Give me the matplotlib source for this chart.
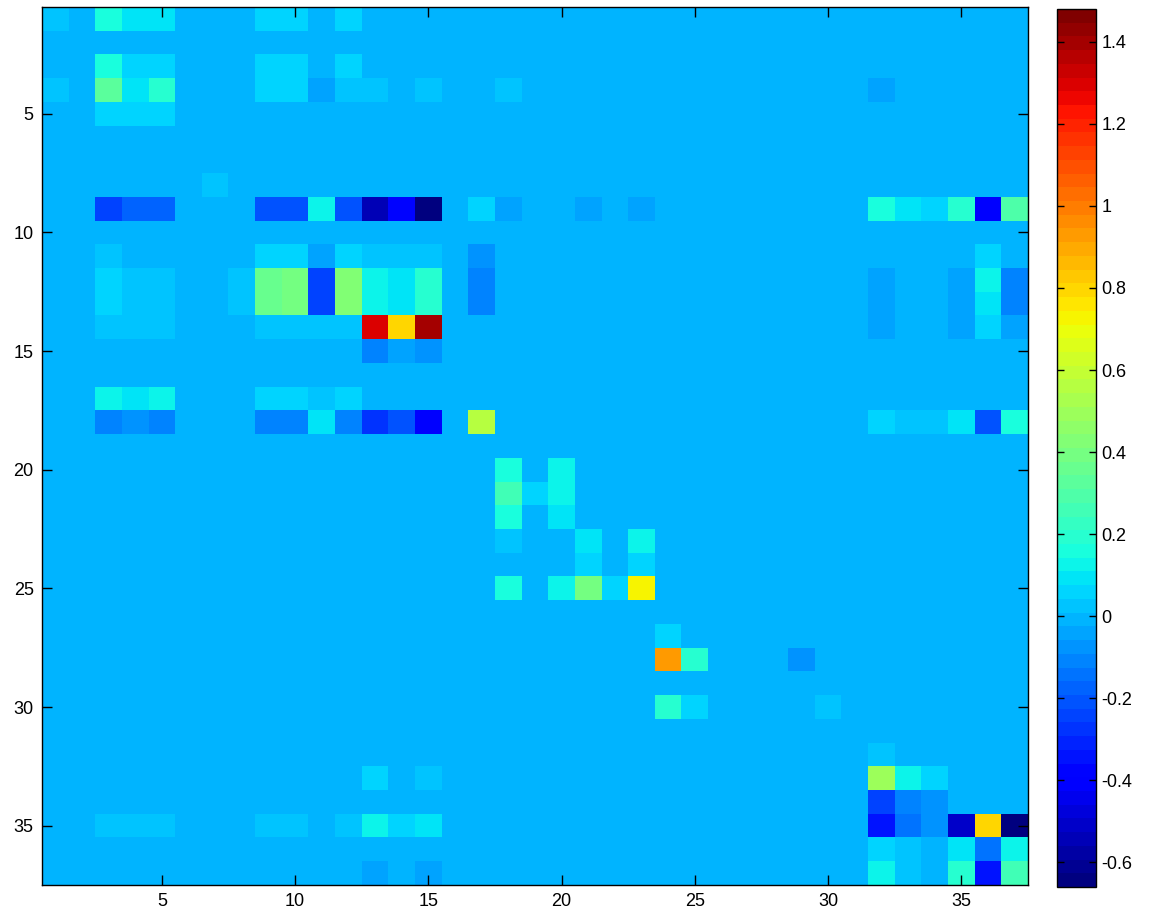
import numpy as np
import matplotlib
matplotlib.use("Agg")
import matplotlib.pyplot as plt

plt.rcParams['font.family'] = ['Liberation Sans', 'DejaVu Sans']
plt.rcParams['axes.unicode_minus'] = False

n = 37
vmin, vmax = -0.66, 1.48

# non-zero cells of the matrix (1-based row, col), everything else is 0
cell_rows = [1, 1, 1, 1, 1, 1, 1,
             3, 3, 3, 3, 3, 3,
             4, 4, 4, 4, 4, 4, 4, 4, 4, 4, 4, 4,
             5, 5, 5,
             8,
             9, 9, 9, 9, 9, 9, 9, 9, 9, 9, 9, 9, 9, 9, 9, 9, 9, 9, 9, 9,
             11, 11, 11, 11, 11, 11, 11, 11, 11, 11,
             12, 12, 12, 12, 12, 12, 12, 12, 12, 12, 12, 12, 12, 12, 12, 12,
             13, 13, 13, 13, 13, 13, 13, 13, 13, 13, 13, 13, 13, 13, 13, 13,
             14, 14, 14, 14, 14, 14, 14, 14, 14, 14, 14, 14, 14, 14,
             15, 15, 15,
             17, 17, 17, 17, 17, 17, 17,
             18, 18, 18, 18, 18, 18, 18, 18, 18, 18, 18, 18, 18, 18, 18, 18, 18,
             20, 20,
             21, 21, 21,
             22, 22,
             23, 23, 23,
             24, 24,
             25, 25, 25, 25, 25,
             27,
             28, 28, 28,
             30, 30, 30,
             32,
             33, 33, 33, 33, 33,
             34, 34, 34,
             35, 35, 35, 35, 35, 35, 35, 35, 35, 35, 35, 35, 35, 35, 35,
             36, 36, 36, 36, 36, 36,
             37, 37, 37, 37, 37, 37, 37, 37]
cell_cols = [1, 3, 4, 5, 9, 10, 12,
             3, 4, 5, 9, 10, 12,
             1, 3, 4, 5, 9, 10, 11, 12, 13, 15, 18, 32,
             3, 4, 5,
             7,
             3, 4, 5, 9, 10, 11, 12, 13, 14, 15, 17, 18, 21, 23, 32, 33, 34, 35, 36, 37,
             3, 9, 10, 11, 12, 13, 14, 15, 17, 36,
             3, 4, 5, 8, 9, 10, 11, 12, 13, 14, 15, 17, 32, 35, 36, 37,
             3, 4, 5, 8, 9, 10, 11, 12, 13, 14, 15, 17, 32, 35, 36, 37,
             3, 4, 5, 9, 10, 11, 12, 13, 14, 15, 32, 35, 36, 37,
             13, 14, 15,
             3, 4, 5, 9, 10, 11, 12,
             3, 4, 5, 9, 10, 11, 12, 13, 14, 15, 17, 32, 33, 34, 35, 36, 37,
             18, 20,
             18, 19, 20,
             18, 20,
             18, 21, 23,
             21, 23,
             18, 20, 21, 22, 23,
             24,
             24, 25, 29,
             24, 25, 30,
             32,
             13, 15, 32, 33, 34,
             32, 33, 34,
             3, 4, 5, 9, 10, 12, 13, 14, 15, 32, 33, 34, 35, 36, 37,
             32, 33, 34, 35, 36, 37,
             13, 15, 32, 33, 34, 35, 36, 37]
cell_vals = [0.03, 0.15, 0.08, 0.10, 0.05, 0.05, 0.06,
             0.15, 0.07, 0.07, 0.05, 0.05, 0.05,
             0.03, 0.32, 0.10, 0.18, 0.05, 0.05, -0.04, 0.04, 0.04, 0.04, 0.04, -0.04,
             0.07, 0.05, 0.05,
             0.04,
             -0.25, -0.16, -0.18, -0.20, -0.22, 0.14, -0.20, -0.55, -0.36, -0.63, 0.07, -0.05,
             -0.04, -0.04, 0.16, 0.10, 0.06, 0.18, -0.40, 0.30,
             0.04, 0.07, 0.07, -0.05, 0.06, 0.04, 0.04, 0.04, -0.07, 0.06,
             0.06, 0.04, 0.04, 0.03, 0.37, 0.38, -0.25, 0.42, 0.13, 0.10, 0.18, -0.12,
             -0.05, -0.05, 0.12, -0.10,
             0.06, 0.04, 0.04, 0.03, 0.37, 0.38, -0.25, 0.42, 0.13, 0.10, 0.18, -0.12,
             -0.05, -0.05, 0.08, -0.10,
             0.04, 0.04, 0.04, 0.04, 0.04, 0.02, 0.02, 1.28, 0.80, 1.40, -0.05, -0.05, 0.07, -0.03,
             -0.10, -0.05, -0.08,
             0.13, 0.08, 0.11, 0.05, 0.05, 0.02, 0.05,
             -0.10, -0.06, -0.10, -0.10, -0.10, 0.10, -0.10, -0.29, -0.22, -0.40, 0.55,
             0.06, 0.04, 0.04, 0.10, -0.20, 0.15,
             0.15, 0.13,
             0.27, 0.05, 0.14,
             0.15, 0.10,
             0.04, 0.08, 0.12,
             0.05, 0.05,
             0.17, 0.12, 0.38, 0.05, 0.74,
             0.05,
             0.92, 0.18, -0.08,
             0.20, 0.07, 0.04,
             0.04,
             0.05, 0.04, 0.48, 0.13, 0.07,
             -0.25, -0.12, -0.08,
             0.04, 0.04, 0.04, 0.04, 0.04, 0.04, 0.12, 0.07, 0.10, -0.35, -0.13, -0.07,
             -0.52, 0.80, -0.64,
             0.05, 0.03, -0.02, 0.08, -0.15, 0.13,
             -0.05, -0.05, 0.12, 0.03, 0.00, 0.18, -0.35, 0.27]

xtick_vals = [5, 10, 15, 20, 25, 30, 35]
ytick_vals = [5, 10, 15, 20, 25, 30, 35]
cbar_ticks = [-0.6, -0.4, -0.2, 0, 0.2, 0.4, 0.6, 0.8, 1, 1.2, 1.4]
cbar_labels = ['-0.6', '-0.4', '-0.2', '0', '0.2', '0.4', '0.6', '0.8', '1', '1.2', '1.4']

M = np.zeros((n, n))
for r, c, v in zip(cell_rows, cell_cols, cell_vals):
    M[r - 1, c - 1] = v

fig = plt.figure(figsize=(11.49, 9.14), dpi=100)
ax = fig.add_axes([42 / 1149, 29 / 914, 986 / 1149, 878 / 914])
cmap = matplotlib.colormaps['jet'].resampled(64)
im = ax.imshow(M, cmap=cmap, vmin=vmin, vmax=vmax, aspect='auto',
               interpolation='nearest', extent=(0.5, n + 0.5, n + 0.5, 0.5))

ax.set_xticks(xtick_vals)
ax.set_yticks(ytick_vals)
ax.tick_params(direction='in', top=True, right=True, length=7, width=1,
               labelsize=13, pad=6)
for s in ax.spines.values():
    s.set_linewidth(1)

cax = fig.add_axes([1057 / 1149, 27 / 914, 39 / 1149, 878 / 914])
cb = fig.colorbar(im, cax=cax, ticks=cbar_ticks)
cb.ax.set_yticklabels(cbar_labels)
cb.ax.yaxis.set_ticks_position('both')
cb.ax.tick_params(direction='in', length=5, width=1, labelsize=13, pad=4)
cb.outline.set_linewidth(1)

fig.savefig('out.png', dpi=100)
